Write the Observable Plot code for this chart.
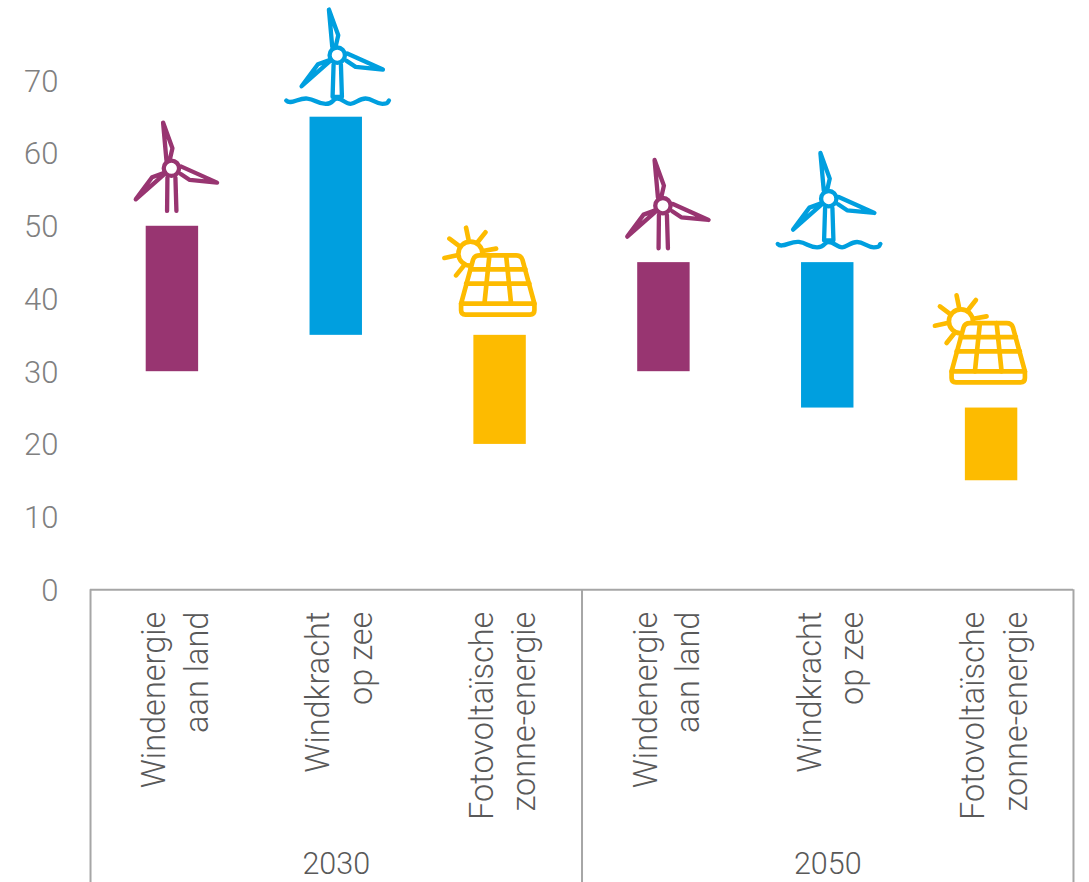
<!DOCTYPE html>
<html>
<head>
<meta charset="utf-8">
<script src="https://cdn.jsdelivr.net/npm/d3@7"></script>
<script src="https://cdn.jsdelivr.net/npm/@observablehq/plot@0.6"></script>
<style>html,body{margin:0;padding:0;background:#fff}svg{display:block}</style>
</head>
<body>
<div id="chart"></div>
<script>
const years = ["2030", "2030", "2030", "2050", "2050", "2050"];
const firstLines = ["Windenergie", "Windkracht", "Fotovoltaïsche", "Windenergie", "Windkracht", "Fotovoltaïsche"];
const secondLines = ["aan land", "op zee", "zonne-energie", "aan land", "op zee", "zonne-energie"];
const kinds = ["land", "sea", "sun", "land", "sea", "sun"];
const lows = [30, 35, 20, 30, 25, 15];
const highs = [50, 65, 35, 45, 45, 25];
const yTicks = [0, 10, 20, 30, 40, 50, 60, 70];

const keys = years.map((y, i) => y + " " + firstLines[i]);
const table = keys.map((key, i) => ({key, year: years[i], first: firstLines[i], second: secondLines[i], kind: kinds[i], low: lows[i], high: highs[i]}));

const colors = {land: "#983571", sea: "#009fdf", sun: "#fdbb00"};

function uri(svg) { return "data:image/svg+xml;utf8," + encodeURIComponent(svg); }

function turbine(color, sea) {
  const tower = sea
    ? `<path d="M-11 28L-14 125H14L11 28"/><path d="M-153 136C-140 150,-115 127,-90 130S-60 146,-35 146S-15 130,0 130S25 146,40 146S65 130,85 130S115 146,135 146S150 142,155 136"/>`
    : `<path d="M-12 28L-13 128M12 28L15 128"/>`;
  return uri(`<svg xmlns="http://www.w3.org/2000/svg" viewBox="-180 -180 360 360"><g fill="none" stroke="${color}" stroke-width="13" stroke-linecap="round" stroke-linejoin="round">
    <circle r="23"/>
    <path d="M-15 -25L-25 -137L3 -60L-5 -25"/>
    <path d="M30 -5L137 43L55 35L28 17"/>
    <path d="M-22 18L-107 93L-58 27L-25 15"/>
    ${tower}</g></svg>`);
}

function solar(color) {
  return uri(`<svg xmlns="http://www.w3.org/2000/svg" viewBox="0 0 360 330"><g fill="none" stroke="${color}" stroke-width="14" stroke-linecap="round" stroke-linejoin="round">
    <circle cx="118" cy="100" r="36"/>
    <path d="M105 22L112 56M163 36L140 65M55 55L86 78M40 113L78 105M75 165L99 135M195 85L155 92"/>
    <path d="M126 118Q130 105 145 105H255Q270 105 274 118L310 250H90Z" fill="#fff"/>
    <path d="M90 250V270Q90 283 103 283H297Q310 283 310 270V250"/>
    <path d="M175 105L160 250M225 105L240 250M118 147H283M105 190H295"/>
  </g></svg>`);
}

const iconOf = {land: turbine(colors.land, false), sea: turbine(colors.sea, true), sun: solar(colors.sun)};
const iconDx = [-1, 1, -9, -1, 1, -10];
const iconDy = [-58, -62, -60, -57, -64, -65];

const textFont = "Roboto, 'Liberation Sans', sans-serif";

const marks = [
  Plot.axisY({ticks: yTicks, tickSize: 0, tickPadding: 32, dy: 1, label: null, fontSize: 31, fontWeight: 300, color: "#808080"}),
  Plot.barY(table, {x: "key", y1: "low", y2: "high", fill: d => colors[d.kind]}),
  Plot.ruleY([0], {stroke: "#a6a6a6", strokeWidth: 2}),
  Plot.ruleX([keys[0]], {y1: 0, y2: -40.3, dx: -81.9, stroke: "#a6a6a6", strokeWidth: 2}),
  Plot.ruleX([keys[3]], {y1: 0, y2: -40.3, dx: -81.9, stroke: "#a6a6a6", strokeWidth: 2}),
  Plot.ruleX([keys[5]], {y1: 0, y2: -40.3, dx: 81.9, stroke: "#a6a6a6", strokeWidth: 2}),
  Plot.text(table, {x: "key", y: -3, text: "first", rotate: -90, textAnchor: "end", dx: -17.5, fontSize: 32.5, fontWeight: 300, fill: "#595959"}),
  Plot.text(table, {x: "key", y: -3, text: "second", rotate: -90, textAnchor: "end", dx: 25, fontSize: 32.5, fontWeight: 300, fill: "#595959"}),
  Plot.text([keys[1], keys[4]], {x: d => d, y: -37.8, text: d => d.slice(0, 4), fontSize: 30.5, fontWeight: 300, fill: "#595959"}),
  ...table.map((d, i) => Plot.image([d], {
    x: "key", y: "high", src: iconOf[d.kind],
    width: 120, height: d.kind === "sun" ? 110 : 120,
    dx: iconDx[i], dy: iconDy[i]
  }))
];

const chart = Plot.plot({
  width: 1089,
  height: 882,
  marginLeft: 90,
  marginTop: 0,
  marginBottom: 0,
  marginRight: 16,
  style: {background: "#fff", fontFamily: textFont},
  x: {type: "band", domain: keys, round: false, paddingInner: 0.68, paddingOuter: 0.34, axis: null},
  y: {domain: [-40.25, 81.05], axis: null},
  marks
});
document.getElementById("chart").appendChild(chart);
</script>
</body>
</html>
